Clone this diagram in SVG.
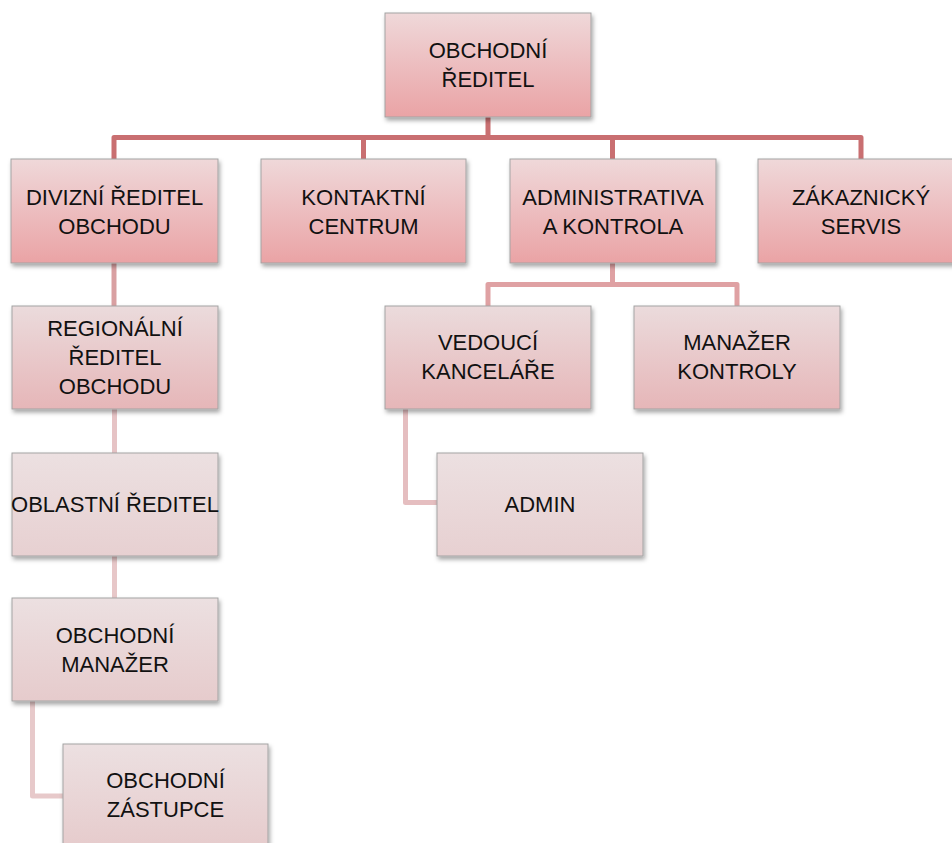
<svg xmlns="http://www.w3.org/2000/svg" width="952" height="843" viewBox="0 0 952 843">
<defs>
<linearGradient id="g1" x1="0" y1="0" x2="0" y2="1"><stop offset="0" stop-color="#EFD8D9"/><stop offset="1" stop-color="#EAA3A5"/></linearGradient>
<linearGradient id="g2" x1="0" y1="0" x2="0" y2="1"><stop offset="0" stop-color="#EBDBDC"/><stop offset="1" stop-color="#E6B6B8"/></linearGradient>
<linearGradient id="g3" x1="0" y1="0" x2="0" y2="1"><stop offset="0" stop-color="#ECE0E1"/><stop offset="1" stop-color="#E7D0D1"/></linearGradient>
<linearGradient id="g4" x1="0" y1="0" x2="0" y2="1"><stop offset="0" stop-color="#ECE0E1"/><stop offset="1" stop-color="#E6CBCC"/></linearGradient>
<filter id="sh" x="-10%" y="-10%" width="125%" height="130%"><feDropShadow dx="1.5" dy="3" stdDeviation="2" flood-color="#000" flood-opacity="0.35"/></filter>
</defs>
<style>
.box{stroke:#A3A3A3;stroke-width:1;filter:url(#sh)}
.l1{fill:url(#g1)}.l2{fill:url(#g2)}.l3{fill:url(#g3)}.l4{fill:url(#g4)}
text{font-family:"Liberation Sans",Arial,sans-serif;font-size:22px;fill:#111;text-anchor:middle}
.c{fill:none;stroke-width:5;stroke-linejoin:round}
</style>
<g id="connectors">
<path class="c" stroke="#C96F71" d="M488 117V137.5M114 159V137.5H861V159M363.5 137.5V159M612.5 137.5V159"/>
<path class="c" stroke="#DFA1A3" d="M612.5 263V284.5M488 306V284.5H737V306"/>
<path class="c" stroke="#D9A0A2" d="M114 263V306"/>
<path class="c" stroke="#E6C3C5" d="M114.5 409V453"/>
<path class="c" stroke="#E7C7C8" d="M114.5 556V598"/>
<path class="c" stroke="#E7C9CA" d="M32.5 701V796H63"/>
<path class="c" stroke="#E5BEC0" d="M405.5 409V502.5H437"/>
</g>
<g id="n-obchodni-reditel"><rect class="box l1" x="385" y="13" width="206" height="104"/><text x="488" y="58">OBCHODNÍ</text><text x="488" y="87">ŘEDITEL</text></g>
<g id="n-divizni"><rect class="box l1" x="11" y="159" width="207" height="104"/><text x="114.5" y="205">DIVIZNÍ ŘEDITEL</text><text x="114.5" y="234">OBCHODU</text></g>
<g id="n-kontaktni"><rect class="box l1" x="261" y="159" width="205" height="104"/><text x="363.5" y="205">KONTAKTNÍ</text><text x="363.5" y="234">CENTRUM</text></g>
<g id="n-administrativa"><rect class="box l1" x="510" y="159" width="206" height="104"/><text x="613" y="205">ADMINISTRATIVA</text><text x="613" y="234">A KONTROLA</text></g>
<g id="n-zakaznicky"><rect class="box l1" x="758" y="159" width="206" height="104"/><text x="861" y="205">ZÁKAZNICKÝ</text><text x="861" y="234">SERVIS</text></g>
<g id="n-regionalni"><rect class="box l2" x="12" y="306" width="206" height="103"/><text x="115" y="336">REGIONÁLNÍ</text><text x="115" y="365">ŘEDITEL</text><text x="115" y="394">OBCHODU</text></g>
<g id="n-vedouci"><rect class="box l2" x="385" y="306" width="206" height="103"/><text x="488" y="350">VEDOUCÍ</text><text x="488" y="379">KANCELÁŘE</text></g>
<g id="n-manazer-kontroly"><rect class="box l2" x="634" y="306" width="206" height="103"/><text x="737" y="350">MANAŽER</text><text x="737" y="379">KONTROLY</text></g>
<g id="n-oblastni"><rect class="box l3" x="12" y="453" width="206" height="103"/><text x="115" y="512">OBLASTNÍ ŘEDITEL</text></g>
<g id="n-admin"><rect class="box l3" x="437" y="453" width="206" height="103"/><text x="540" y="512">ADMIN</text></g>
<g id="n-obchodni-manazer"><rect class="box l4" x="12" y="598" width="206" height="103"/><text x="115" y="643">OBCHODNÍ</text><text x="115" y="672">MANAŽER</text></g>
<g id="n-obchodni-zastupce"><rect class="box l4" x="63" y="744" width="205" height="104"/><text x="165.5" y="788">OBCHODNÍ</text><text x="165.5" y="817">ZÁSTUPCE</text></g>
</svg>
